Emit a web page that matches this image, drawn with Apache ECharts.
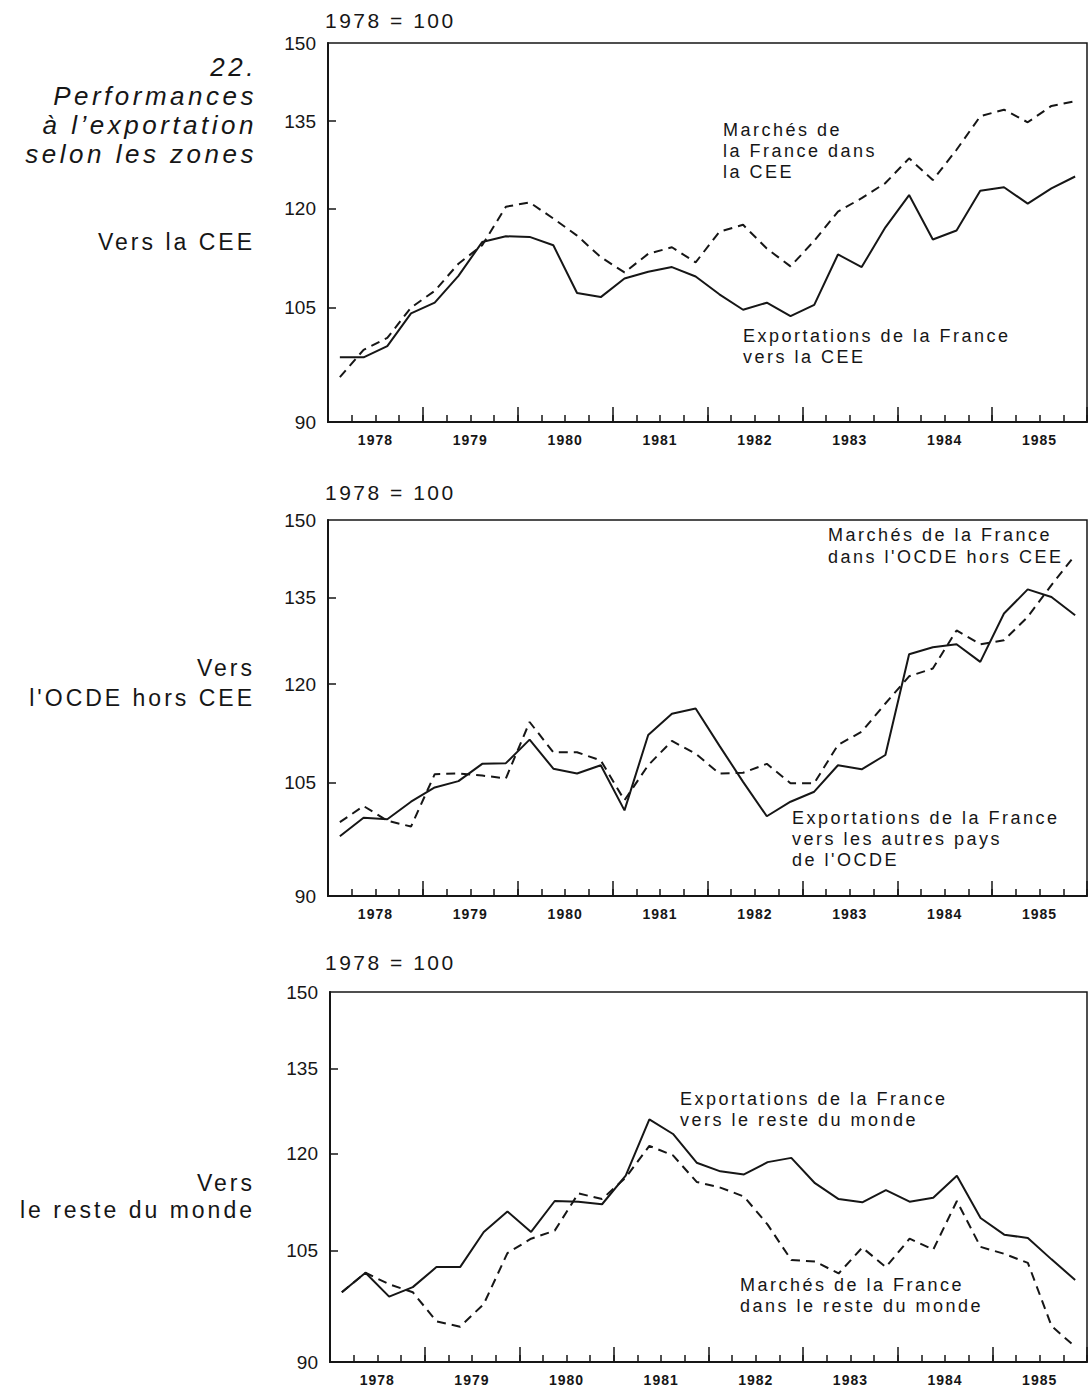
<!DOCTYPE html>
<html>
<head>
<meta charset="utf-8">
<title>Performances à l'exportation selon les zones</title>
<script src="https://cdn.jsdelivr.net/npm/echarts@6/dist/echarts.min.js"></script>
<style>
  html, body { margin: 0; padding: 0; background: #fff; }
  #main { width: 1089px; height: 1388px; }
  /* typographie espacée du document d'origine */
  #main text { letter-spacing: 2.5px; }
  #main text[style*="italic"] { letter-spacing: 3.5px; }
  #main text[style*="bold"] { letter-spacing: 1px; }
  #main text[style*="23px"] { letter-spacing: 3px; }
  #main text[style*="19px"] { letter-spacing: 0; }
</style>
</head>
<body>
<div id="main"></div>
<script>
// années et trimestres (1978 T1 -> 1985 T4)
const years = ['1978', '1979', '1980', '1981', '1982', '1983', '1984', '1985'];
const quarters = years.flatMap(y => ['T1', 'T2', 'T3', 'T4'].map(q => y + q));
const yLabels = [90, 105, 120, 135, 150];
const yTicks = [105, 120, 135];

// Vers la CEE
const ceeExports = [98.2, 98.2, 99.7, 104.2, 105.7, 109.6, 114.7, 115.6, 115.5, 114.2, 107.1, 106.5, 109.2, 110.2, 110.9, 109.5,
  106.9, 104.7, 105.7, 103.8, 105.4, 112.8, 110.9, 117.0, 122.2, 115.1, 116.5, 122.9, 123.5, 120.8, 123.3, 125.3];
const ceeMarkets = [95.6, 99.2, 100.8, 105.0, 107.4, 111.4, 114.2, 120.3, 121.0, 118.4, 115.7, 112.4, 110.1, 112.9, 113.9, 111.6,
  116.3, 117.4, 113.7, 111.0, 114.9, 119.5, 121.7, 124.2, 128.4, 124.7, 129.9, 135.9, 137.1, 134.8, 137.8, 138.7];

// Vers l'OCDE hors CEE
const ocdeExports = [97.6, 100.1, 99.9, 102.3, 104.3, 105.2, 107.7, 107.8, 111.3, 107.0, 106.3, 107.5, 101.1, 112.0, 115.3, 116.1,
  110.4, 105.1, 100.3, 102.3, 103.7, 107.5, 106.9, 109.0, 125.0, 126.2, 126.7, 123.7, 132.1, 136.5, 135.1, 131.8];
const ocdeMarkets = [99.5, 101.7, 99.7, 98.9, 106.2, 106.3, 106.0, 105.6, 114.0, 109.4, 109.4, 108.2, 102.5, 107.5, 111.1, 109.2,
  106.3, 106.4, 107.7, 104.9, 104.9, 110.5, 112.5, 116.9, 121.3, 122.6, 129.1, 126.7, 127.4, 131.5, 137.3, 143.0];

// Vers le reste du monde
const rdmExports = [99.1, 101.8, 98.5, 99.8, 102.6, 102.6, 107.7, 110.8, 107.7, 112.4, 112.3, 111.9, 116.4, 125.8, 123.3, 118.5,
  117.1, 116.6, 118.6, 119.3, 115.2, 112.7, 112.2, 114.1, 112.3, 112.9, 116.4, 109.8, 107.3, 106.8, 103.7, 100.8];
const rdmMarkets = [99.1, 101.8, 100.2, 99.1, 95.2, 94.5, 97.5, 104.6, 106.7, 107.9, 113.6, 112.7, 116.1, 121.3, 119.7, 115.4,
  114.5, 113.1, 108.8, 103.6, 103.4, 101.7, 105.4, 102.6, 106.7, 105.1, 112.4, 105.5, 104.5, 103.2, 94.6, 91.9];

const INK = '#161616';
const FONT = '"Liberation Sans", Arial, Helvetica, sans-serif';

const panels = [
  { exports: ceeExports, markets: ceeMarkets, grid: { left: 328, top: 43, width: 759, height: 379 } },
  { exports: ocdeExports, markets: ocdeMarkets, grid: { left: 328, top: 520, width: 759, height: 376 } },
  { exports: rdmExports, markets: rdmMarkets, grid: { left: 330, top: 992, width: 757, height: 370 } }
];

const grid = [], xAxis = [], yAxis = [], series = [];

panels.forEach((p, k) => {
  grid.push(Object.assign({
    show: true, borderColor: INK, borderWidth: 1.5, backgroundColor: 'transparent', outerBoundsMode: 'none'
  }, p.grid));

  // axe des trimestres (petites graduations)
  xAxis.push({
    gridIndex: k, type: 'category', position: 'bottom', data: quarters, boundaryGap: true,
    axisLine: { show: true, onZero: false, lineStyle: { color: INK, width: 2 } },
    axisTick: { show: true, inside: true, length: 7, interval: 0, lineStyle: { color: INK, width: 1.5 } },
    axisLabel: { show: false },
    splitLine: { show: false }
  });
  // axe des années (grandes graduations + libellés)
  xAxis.push({
    gridIndex: k, type: 'category', position: 'bottom', data: years, boundaryGap: true,
    axisLine: { show: false, onZero: false },
    axisTick: { show: true, inside: true, length: 15, interval: 0, lineStyle: { color: INK, width: 1.5 } },
    axisLabel: { interval: 0, margin: 11, fontSize: 14, fontWeight: 'bold', color: INK, fontFamily: FONT },
    splitLine: { show: false }
  });

  yAxis.push({
    gridIndex: k, type: 'log', logBase: 10, min: 90, max: 150,
    axisLine: { show: true, lineStyle: { color: INK, width: 2 } },
    axisTick: { show: true, inside: true, length: 8, customValues: yTicks, lineStyle: { color: INK, width: 1.5 } },
    axisLabel: { customValues: yLabels, fontSize: 19, color: INK, margin: 12, fontFamily: FONT,
      formatter: v => String(Math.round(v)) },
    splitLine: { show: false },
    minorTick: { show: false }
  });

  series.push({
    type: 'line', xAxisIndex: 2 * k, yAxisIndex: k, data: p.exports,
    symbol: 'none', silent: true,
    lineStyle: { color: INK, width: 2, type: 'solid' }
  });
  series.push({
    type: 'line', xAxisIndex: 2 * k, yAxisIndex: k, data: p.markets,
    symbol: 'none', silent: true,
    lineStyle: { color: INK, width: 2, type: [9, 6] }
  });
});

// textes
function txt(x, y, text, size, opts) {
  return {
    type: 'text', x: x, y: y, silent: true,
    style: Object.assign({
      text: text, fill: INK, fontSize: size, fontFamily: FONT,
      align: 'left', textAlign: 'left', verticalAlign: 'top', textVerticalAlign: 'top',
      lineHeight: 21
    }, opts || {})
  };
}
const right = { align: 'right', textAlign: 'right' };
const middle = { verticalAlign: 'middle', textVerticalAlign: 'middle' };

const graphic = [
  txt(257, 52, '22.\nPerformances\nà l’exportation\nselon les zones', 26,
    Object.assign({ fontStyle: 'italic', lineHeight: 29 }, right)),
  txt(255, 242, 'Vers la CEE', 23, Object.assign({}, right, middle)),
  txt(255, 653, 'Vers\nl\'OCDE hors CEE', 23, Object.assign({ lineHeight: 30 }, right)),
  txt(255, 1169, 'Vers\nle reste du monde', 23, Object.assign({ lineHeight: 27 }, right)),

  txt(325, 20, '1978 = 100', 21, middle),
  txt(325, 492, '1978 = 100', 21, middle),
  txt(325, 962, '1978 = 100', 21, middle),

  txt(723, 119.5, 'Marchés de\nla France dans\nla CEE', 18),
  txt(743, 325.5, 'Exportations de la France\nvers la CEE', 18),
  txt(828, 524, 'Marchés de la France\ndans l\'OCDE hors CEE', 18, { lineHeight: 22 }),
  txt(792, 807.5, 'Exportations de la France\nvers les autres pays\nde l\'OCDE', 18),
  txt(680, 1088.5, 'Exportations de la France\nvers le reste du monde', 18),
  txt(740, 1274.5, 'Marchés de la France\ndans le reste du monde', 18)
];

const chart = echarts.init(document.getElementById('main'), null, { renderer: 'svg' });
chart.setOption({
  backgroundColor: '#fff',
  animation: false,
  grid: grid,
  xAxis: xAxis,
  yAxis: yAxis,
  series: series,
  graphic: graphic
});
</script>
</body>
</html>
